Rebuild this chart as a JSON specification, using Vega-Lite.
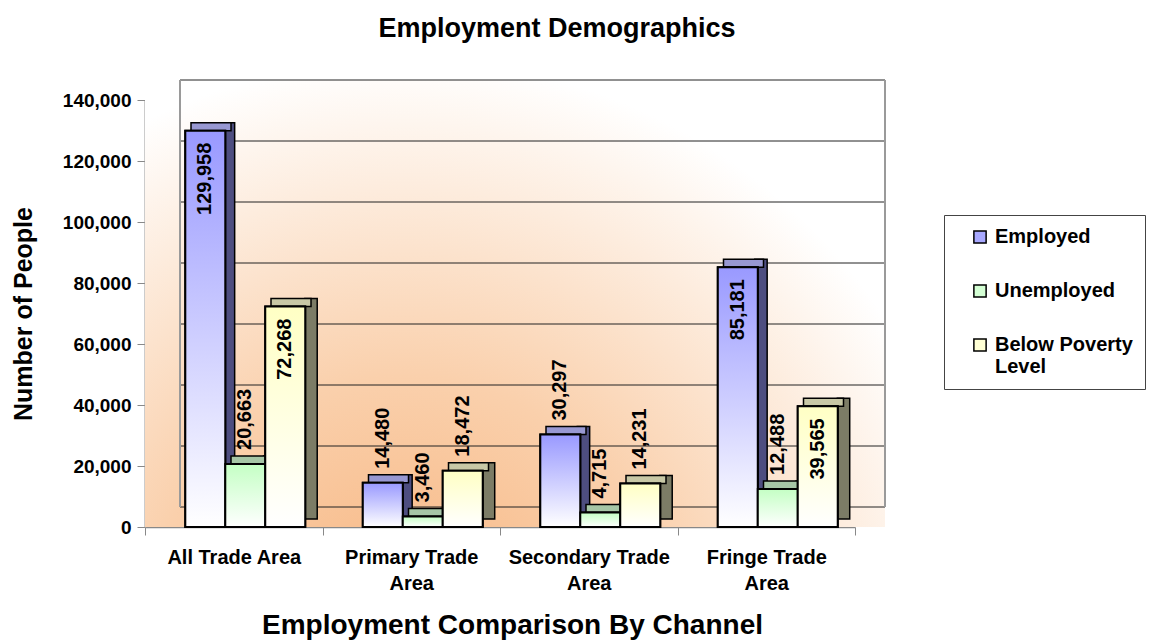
{
  "$schema": "https://vega.github.io/schema/vega-lite/v6.json",
  "width": 710,
  "height": 427,
  "autosize": {"type": "none"},
  "padding": {"left": 145, "top": 100, "right": 303, "bottom": 116},
  "background": "white",
  "config": {
    "font": "Liberation Sans",
    "view": {"stroke": null},
    "axis": {"grid": false, "labelFont": "Liberation Sans", "titleFont": "Liberation Sans"}
  },
  "title": {
    "text": "Employment Demographics",
    "font": "Liberation Sans",
    "fontSize": 27,
    "fontWeight": "bold",
    "color": "black",
    "anchor": "middle",
    "frame": "group",
    "baseline": "alphabetic",
    "dx": 57,
    "offset": 15
  },
  "datasets": {
    "bars": [
      {"area": "All Trade Area", "series": "Employed", "value": 129958},
      {"area": "All Trade Area", "series": "Unemployed", "value": 20663},
      {"area": "All Trade Area", "series": "Below Poverty Level", "value": 72268},
      {"area": "Primary Trade Area", "series": "Employed", "value": 14480},
      {"area": "Primary Trade Area", "series": "Unemployed", "value": 3460},
      {"area": "Primary Trade Area", "series": "Below Poverty Level", "value": 18472},
      {"area": "Secondary Trade Area", "series": "Employed", "value": 30297},
      {"area": "Secondary Trade Area", "series": "Unemployed", "value": 4715},
      {"area": "Secondary Trade Area", "series": "Below Poverty Level", "value": 14231},
      {"area": "Fringe Trade Area", "series": "Employed", "value": 85181},
      {"area": "Fringe Trade Area", "series": "Unemployed", "value": 12488},
      {"area": "Fringe Trade Area", "series": "Below Poverty Level", "value": 39565}
    ],
    "grid": [
      {"value": 0}, {"value": 20000}, {"value": 40000}, {"value": 60000},
      {"value": 80000}, {"value": 100000}, {"value": 120000}, {"value": 140000}
    ]
  },
  "resolve": {"scale": {"fill": "independent", "xOffset": "independent"}},
  "layer": [
    {
      "data": {"values": [{}]},
      "mark": {
        "type": "rect",
        "x2Offset": 30,
        "yOffset": -20,
        "color": {
          "gradient": "radial",
          "x1": 0.35, "y1": 0.95, "r1": 0,
          "x2": 0.35, "y2": 0.95, "r2": 0.78,
          "stops": [
            {"offset": 0, "color": "#F7B47E"},
            {"offset": 0.45, "color": "#FAD0AC"},
            {"offset": 1, "color": "#FFFFFF"}
          ]
        }
      },
      "encoding": {
        "x": {"value": 0},
        "x2": {"value": "width"},
        "y": {
          "datum": 140000,
          "type": "quantitative",
          "scale": {"domain": [0, 140000], "nice": false},
          "axis": {
            "title": "Number of People",
            "values": [0, 20000, 40000, 60000, 80000, 100000, 120000, 140000],
            "format": ",.0f",
            "titleFontSize": 25,
            "titleFontWeight": "bold",
            "titleColor": "black",
            "titlePadding": 26,
            "labelFontSize": 19,
            "labelFontWeight": "bold",
            "labelColor": "black",
            "labelPadding": 6,
            "tickSize": 8,
            "tickColor": "#888888",
            "domainColor": "#999999",
            "domainWidth": 2
          }
        },
        "y2": {"datum": 0}
      }
    },
    {
      "data": {"name": "grid"},
      "mark": {"type": "rule", "color": "#222222", "strokeWidth": 1, "xOffset": 35, "x2Offset": 30, "yOffset": -20},
      "encoding": {
        "x": {"value": 0},
        "x2": {"value": "width"},
        "y": {"field": "value", "type": "quantitative"}
      }
    },
    {
      "data": {"values": [{}]},
      "mark": {"type": "rule", "color": "#9A9A9A", "strokeWidth": 2, "xOffset": 35, "yOffset": -20, "y2Offset": -20},
      "encoding": {
        "x": {"value": 0},
        "y": {"datum": 0, "type": "quantitative"},
        "y2": {"datum": 140000}
      }
    },
    {
      "data": {"values": [{}]},
      "mark": {"type": "rule", "color": "#9A9A9A", "strokeWidth": 2, "xOffset": 30, "yOffset": -20, "y2Offset": -20},
      "encoding": {
        "x": {"value": "width"},
        "y": {"datum": 0, "type": "quantitative"},
        "y2": {"datum": 140000}
      }
    },
    {
      "data": {"name": "bars"},
      "mark": {"type": "bar", "yOffset": -8, "y2Offset": -8, "stroke": "black", "strokeWidth": 1.5},
      "encoding": {
        "x": {"field": "area", "type": "nominal", "sort": ["All Trade Area", "Primary Trade Area", "Secondary Trade Area", "Fringe Trade Area"]},
        "xOffset": {"field": "series", "type": "nominal", "scale": {"type": "band", "domain": ["Employed", "Unemployed", "Below Poverty Level"], "paddingInner": 0.7, "paddingOuter": 1.069, "align": 0.936}},
        "y": {"field": "value", "type": "quantitative"},
        "fill": {"field": "series", "type": "nominal", "legend": null, "scale": {"domain": ["Employed", "Unemployed", "Below Poverty Level"], "range": ["#4E4E80", "#6A886A", "#7C7C66"]}}
      }
    },
    {
      "data": {"name": "bars"},
      "mark": {"type": "bar", "yOffset": -8, "stroke": "black", "strokeWidth": 1.5},
      "encoding": {
        "x": {"field": "area", "type": "nominal", "sort": ["All Trade Area", "Primary Trade Area", "Secondary Trade Area", "Fringe Trade Area"]},
        "xOffset": {"field": "series", "type": "nominal", "scale": {"type": "band", "domain": ["Employed", "Unemployed", "Below Poverty Level"], "paddingInner": 0, "paddingOuter": 0.71875, "align": 0.8}},
        "y": {"field": "value", "type": "quantitative"},
        "y2": {"field": "value"},
        "fill": {"field": "series", "type": "nominal", "legend": null, "scale": {"domain": ["Employed", "Unemployed", "Below Poverty Level"], "range": ["#9898D2", "#A6C6A6", "#C8C8A6"]}}
      }
    },
    {
      "data": {"name": "bars"},
      "mark": {"type": "bar", "stroke": "black", "strokeWidth": 2},
      "encoding": {
        "x": {
          "field": "area",
          "type": "nominal",
          "sort": ["All Trade Area", "Primary Trade Area", "Secondary Trade Area", "Fringe Trade Area"],
          "scale": {"paddingInner": 0, "paddingOuter": 0},
          "axis": {
            "title": "Employment Comparison By Channel",
            "titleFontSize": 28,
            "titleFontWeight": "bold",
            "titleColor": "black",
            "titlePadding": 18,
            "titleX": 367,
            "labelFontSize": 20,
            "labelFontWeight": "bold",
            "labelColor": "black",
            "labelAngle": 0,
            "labelAlign": "center",
            "labelFlush": false,
            "labelPadding": 22,
            "labelLineHeight": 26,
            "labelLimit": 300,
            "labelExpr": "indexof(['Primary Trade Area', 'Secondary Trade Area', 'Fringe Trade Area'], datum.label) >= 0 ? [replace(datum.label, ' Area', ''), 'Area'] : (datum.label == 'All Trade Area' ? datum.label : '')",
            "tickBand": "extent",
            "tickSize": 8,
            "tickColor": "#888888",
            "domainColor": "#888888",
            "domainWidth": 1.5
          }
        },
        "xOffset": {"field": "series", "type": "nominal", "scale": {"type": "band", "domain": ["Employed", "Unemployed", "Below Poverty Level"], "paddingInner": 0, "paddingOuter": 0.72, "align": 0.7}},
        "y": {"field": "value", "type": "quantitative"},
        "color": {
          "field": "series",
          "type": "nominal",
          "scale": {"domain": ["Employed", "Unemployed", "Below Poverty Level"], "range": ["#A8A8FF", "#D4FFD4", "#FFFFD4"]},
          "legend": {
            "title": null,
            "orient": "none",
            "legendX": 799,
            "legendY": 115,
            "direction": "vertical",
            "strokeColor": "#444444",
            "fillColor": "white",
            "padding": 12,
            "symbolType": "square",
            "symbolSize": 150,
            "symbolStrokeColor": "black",
            "symbolStrokeWidth": 1.5,
            "symbolOffset": 14,
            "labelFont": "Liberation Sans",
            "labelFontSize": 20,
            "labelFontWeight": "bold",
            "labelColor": "black",
            "labelLimit": 300,
            "labelOffset": 5,
            "rowPadding": 34,
            "labelExpr": "datum.label == 'Below Poverty Level' ? ['Below Poverty', 'Level'] : datum.label"
          }
        }
      }
    },
    {
      "data": {"name": "bars"},
      "transform": [{"filter": "datum.series == 'Employed'"}],
      "mark": {
        "type": "bar", "stroke": "black", "strokeWidth": 2,
        "fill": {"gradient": "linear", "x1": 0, "y1": 0, "x2": 0, "y2": 1, "stops": [{"offset": 0, "color": "#9999FF"}, {"offset": 1, "color": "#FFFFFF"}]}
      },
      "encoding": {
        "x": {"field": "area", "type": "nominal", "sort": ["All Trade Area", "Primary Trade Area", "Secondary Trade Area", "Fringe Trade Area"]},
        "xOffset": {"field": "series", "type": "nominal", "scale": {"type": "band", "domain": ["Employed", "Unemployed", "Below Poverty Level"], "paddingInner": 0, "paddingOuter": 0.72, "align": 0.7}},
        "y": {"field": "value", "type": "quantitative"}
      }
    },
    {
      "data": {"name": "bars"},
      "transform": [{"filter": "datum.series == 'Unemployed'"}],
      "mark": {
        "type": "bar", "stroke": "black", "strokeWidth": 2,
        "fill": {"gradient": "linear", "x1": 0, "y1": 0, "x2": 0, "y2": 1, "stops": [{"offset": 0, "color": "#C4FFC4"}, {"offset": 1, "color": "#FFFFFF"}]}
      },
      "encoding": {
        "x": {"field": "area", "type": "nominal", "sort": ["All Trade Area", "Primary Trade Area", "Secondary Trade Area", "Fringe Trade Area"]},
        "xOffset": {"field": "series", "type": "nominal", "scale": {"type": "band", "domain": ["Employed", "Unemployed", "Below Poverty Level"], "paddingInner": 0, "paddingOuter": 0.72, "align": 0.7}},
        "y": {"field": "value", "type": "quantitative"}
      }
    },
    {
      "data": {"name": "bars"},
      "transform": [{"filter": "datum.series == 'Below Poverty Level'"}],
      "mark": {
        "type": "bar", "stroke": "black", "strokeWidth": 2,
        "fill": {"gradient": "linear", "x1": 0, "y1": 0, "x2": 0, "y2": 1, "stops": [{"offset": 0, "color": "#FFFFC4"}, {"offset": 1, "color": "#FFFFFF"}]}
      },
      "encoding": {
        "x": {"field": "area", "type": "nominal", "sort": ["All Trade Area", "Primary Trade Area", "Secondary Trade Area", "Fringe Trade Area"]},
        "xOffset": {"field": "series", "type": "nominal", "scale": {"type": "band", "domain": ["Employed", "Unemployed", "Below Poverty Level"], "paddingInner": 0, "paddingOuter": 0.72, "align": 0.7}},
        "y": {"field": "value", "type": "quantitative"}
      }
    },
    {
      "data": {"name": "bars"},
      "transform": [{"filter": "datum.value > 35000"}],
      "mark": {"type": "text", "angle": 270, "align": "right", "baseline": "middle", "dx": -12, "font": "Liberation Sans", "fontSize": 20, "fontWeight": "bold", "color": "black"},
      "encoding": {
        "x": {"field": "area", "type": "nominal", "sort": ["All Trade Area", "Primary Trade Area", "Secondary Trade Area", "Fringe Trade Area"]},
        "xOffset": {"field": "series", "type": "nominal", "scale": {"type": "band", "domain": ["Employed", "Unemployed", "Below Poverty Level"], "paddingInner": 0, "paddingOuter": 0.72, "align": 0.7}},
        "y": {"field": "value", "type": "quantitative"},
        "text": {"field": "value", "type": "quantitative", "format": ","}
      }
    },
    {
      "data": {"name": "bars"},
      "transform": [{"filter": "datum.value <= 35000"}],
      "mark": {"type": "text", "angle": 270, "align": "left", "baseline": "middle", "dx": 14, "font": "Liberation Sans", "fontSize": 20, "fontWeight": "bold", "color": "black"},
      "encoding": {
        "x": {"field": "area", "type": "nominal", "sort": ["All Trade Area", "Primary Trade Area", "Secondary Trade Area", "Fringe Trade Area"]},
        "xOffset": {"field": "series", "type": "nominal", "scale": {"type": "band", "domain": ["Employed", "Unemployed", "Below Poverty Level"], "paddingInner": 0, "paddingOuter": 0.72, "align": 0.7}},
        "y": {"field": "value", "type": "quantitative"},
        "text": {"field": "value", "type": "quantitative", "format": ","}
      }
    }
  ]
}
